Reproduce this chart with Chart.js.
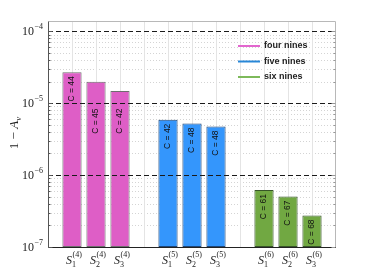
<!DOCTYPE html>
<html>
<head>
<meta charset="utf-8">
<script src="https://cdn.jsdelivr.net/npm/chart.js@4.4.0/dist/chart.umd.min.js"></script>
<style>
  html, body { margin: 0; padding: 0; background: #fff; }
  canvas { display: block; }
</style>
</head>
<body>
<canvas id="js-chart-availability" width="371" height="278"></canvas>
<script>
// Series (legend) and the tag used in the S_i^(n) tick labels
const seriesNames = ["four nines", "five nines", "six nines"];
const seriesTags = ["(4)", "(5)", "(6)"];
const schemeIndex = ["1", "2", "3"];

// 1 - A_v for S_1..S_3 of every series
const fourNines = [2.7e-5, 1.98e-5, 1.48e-5];
const fiveNines = [5.9e-6, 5.2e-6, 4.75e-6];
const sixNines = [6.2e-7, 5.05e-7, 2.75e-7];

// C values printed inside the bars
const fourNinesC = [44, 45, 42];
const fiveNinesC = [42, 48, 48];
const sixNinesC = [61, 67, 68];

// Decade ticks on the y axis (powers of ten)
const yTickExponents = [-7, -6, -5, -4];

const serif = '"Liberation Serif", "DejaVu Serif", serif';
const sans = '"Liberation Sans", Arial, sans-serif';

// Build category slots: an empty slot before, between and after the groups
const seriesValues = [fourNines, fiveNines, sixNines];
const seriesC = [fourNinesC, fiveNinesC, sixNinesC];
const slotLabels = [""];
seriesValues.forEach((vals, d) => {
  vals.forEach((v, j) => slotLabels.push("S" + schemeIndex[j] + seriesTags[d]));
  slotLabels.push("");
});
const slotOf = (d, j) => 1 + d * 4 + j;

const fills = ["rgb(222, 94, 198)", "rgb(52, 150, 252)", "rgb(113, 168, 66)"];
const edges = ["rgb(110, 110, 110)", "rgb(30, 70, 120)", "rgb(55, 85, 40)"];
const legendColors = ["rgb(226, 102, 206)", "rgb(40, 135, 215)", "rgb(125, 185, 90)"];

const datasets = seriesValues.map((vals, d) => {
  const data = slotLabels.map(() => null);
  vals.forEach((v, j) => { data[slotOf(d, j)] = v; });
  return {
    label: seriesNames[d],
    data: data,
    backgroundColor: fills[d],
    borderColor: edges[d],
    borderWidth: 1,
    borderSkipped: false,
    grouped: false,
    barPercentage: 1,
    categoryPercentage: 0.8,
  };
});

// Log grid values from the scale range
function logValues(scale) {
  const out = [];
  const lo = Math.floor(Math.log10(scale.min));
  const hi = Math.ceil(Math.log10(scale.max));
  for (let k = lo; k <= hi; k++) {
    for (let m = 1; m <= 9; m++) {
      const v = m * Math.pow(10, k);
      if (v >= scale.min * 0.999 && v <= scale.max) out.push({ v: v, major: m === 1 });
    }
  }
  return out;
}

const decorPlugin = {
  id: "decor",
  beforeDatasetsDraw(chart) {
    const { ctx, chartArea: a, scales } = chart;
    ctx.save();
    // minor dotted grid
    ctx.strokeStyle = "#d4d4d4";
    ctx.lineWidth = 1;
    ctx.setLineDash([1, 2]);
    logValues(scales.y).forEach((t) => {
      if (t.major) return;
      const y = Math.round(scales.y.getPixelForValue(t.v)) + 0.5;
      ctx.beginPath();
      ctx.moveTo(a.left, y);
      ctx.lineTo(a.right, y);
      ctx.stroke();
    });
    // vertical category grid
    ctx.setLineDash([]);
    ctx.strokeStyle = "#e4e4e4";
    for (let i = 1; i < slotLabels.length - 1; i++) {
      const x = Math.round(scales.x.getPixelForValue(i)) + 0.5;
      ctx.beginPath();
      ctx.moveTo(x, a.top);
      ctx.lineTo(x, a.bottom);
      ctx.stroke();
    }
    ctx.restore();
  },
  afterDatasetsDraw(chart) {
    const { ctx, chartArea: a, scales } = chart;
    const ys = scales.y;
    const xs = scales.x;
    ctx.save();

    // major dashed lines, above the bars
    ctx.strokeStyle = "#1a1a1a";
    ctx.lineWidth = 1;
    ctx.setLineDash([5, 3]);
    const majorPx = [];
    logValues(ys).forEach((t) => {
      if (!t.major) return;
      const y = Math.round(ys.getPixelForValue(t.v)) + 0.5;
      majorPx.push(y);
      if (y >= a.bottom - 1) return;
      ctx.beginPath();
      ctx.moveTo(a.left, y);
      ctx.lineTo(a.right, y);
      ctx.stroke();
    });
    ctx.setLineDash([]);

    // frame
    const L = Math.round(a.left) + 0.5, R = Math.round(a.right) - 0.5;
    const T = Math.round(a.top) + 0.5, B = Math.round(a.bottom) + 0.5;
    ctx.strokeStyle = "#b8b8b8";
    ctx.beginPath();
    ctx.moveTo(L, T); ctx.lineTo(R, T); ctx.lineTo(R, B);
    ctx.stroke();
    ctx.strokeStyle = "#555";
    ctx.beginPath();
    ctx.moveTo(L, T); ctx.lineTo(L, B);
    ctx.stroke();
    ctx.strokeStyle = "#222";
    ctx.beginPath();
    ctx.moveTo(L, B); ctx.lineTo(R + 0.5, B);
    ctx.stroke();

    // inward ticks on left and right
    logValues(ys).forEach((t) => {
      const y = Math.round(ys.getPixelForValue(t.v)) + 0.5;
      const len = t.major ? 4 : 2;
      ctx.strokeStyle = "#555";
      ctx.beginPath(); ctx.moveTo(L, y); ctx.lineTo(L + len, y); ctx.stroke();
      ctx.strokeStyle = "#999";
      ctx.beginPath(); ctx.moveTo(R, y); ctx.lineTo(R - len, y); ctx.stroke();
    });

    // y tick labels 10^k
    ctx.fillStyle = "#222";
    ctx.textBaseline = "alphabetic";
    ctx.textAlign = "left";
    yTickExponents.forEach((e) => {
      const y = ys.getPixelForValue(Math.pow(10, e));
      ctx.font = "12px " + serif;
      const x0 = 22;
      ctx.fillText("10", x0, y + 4);
      const w = ctx.measureText("10").width;
      ctx.font = "8px " + serif;
      ctx.fillText("\u2212" + Math.abs(e), x0 + w + 0.5, y - 2);
    });

    // x tick labels S_j^(n)
    seriesValues.forEach((vals, d) => {
      vals.forEach((v, j) => {
        const cx = xs.getPixelForValue(slotOf(d, j));
        const x0 = cx - 6;
        const base = a.bottom + 17;
        ctx.font = "italic 12px " + serif;
        ctx.fillText("S", x0, base);
        const sw = ctx.measureText("S").width;
        ctx.font = "8px " + serif;
        ctx.fillText(schemeIndex[j], x0 + sw, base + 3);
        ctx.fillText(seriesTags[d], x0 + sw + 0.5, base - 7);
      });
    });

    // y axis title 1 - A_v
    ctx.save();
    ctx.translate(14, 133);
    ctx.rotate(-Math.PI / 2);
    const parts = [
      { t: "1 \u2212 ", f: "13px " + serif, dy: 0 },
      { t: "A", f: "italic 13px " + serif, dy: 0 },
      { t: "v", f: "italic 9px " + serif, dy: 3 },
    ];
    let total = 0;
    parts.forEach((p) => { ctx.font = p.f; p.w = ctx.measureText(p.t).width; total += p.w; });
    let px = -total / 2;
    parts.forEach((p) => {
      ctx.font = p.f;
      ctx.fillText(p.t, px, 4 + p.dy);
      px += p.w;
    });
    ctx.restore();

    // C labels inside the bars
    ctx.font = "8.5px " + sans;
    ctx.fillStyle = "#111";
    seriesC.forEach((cs, d) => {
      const meta = chart.getDatasetMeta(d);
      cs.forEach((c, j) => {
        const bar = meta.data[slotOf(d, j)];
        const text = "C = " + c;
        const len = ctx.measureText(text).width;
        let top = bar.y + 4;
        majorPx.forEach((g) => {
          if (g > top - 1 && g < top + len + 1) top = g + 5;
        });
        ctx.save();
        ctx.translate(bar.x, top);
        ctx.rotate(-Math.PI / 2);
        ctx.textAlign = "right";
        ctx.textBaseline = "middle";
        ctx.fillText(text, 0, 0);
        ctx.restore();
      });
    });

    // legend
    ctx.textAlign = "left";
    ctx.textBaseline = "middle";
    ctx.font = "bold 9px " + sans;
    seriesNames.forEach((name, d) => {
      const y = 46 + d * 15.5;
      ctx.strokeStyle = legendColors[d];
      ctx.lineWidth = 2;
      ctx.beginPath();
      ctx.moveTo(238, y);
      ctx.lineTo(260, y);
      ctx.stroke();
      ctx.fillStyle = "#222";
      ctx.fillText(name, 264, y);
    });

    ctx.restore();
  },
};

new Chart(document.getElementById("js-chart-availability"), {
  type: "bar",
  data: { labels: slotLabels, datasets: datasets },
  options: {
    responsive: false,
    animation: false,
    devicePixelRatio: 1,
    layout: { padding: { top: 21, right: 35, left: 0, bottom: 0 } },
    scales: {
      x: {
        type: "category",
        offset: false,
        grid: { display: false },
        border: { display: false },
        ticks: { display: false },
        afterFit: (s) => { s.height = 31; },
      },
      y: {
        type: "logarithmic",
        min: 1e-7,
        max: 1.39e-4,
        grid: { display: false },
        border: { display: false },
        ticks: { display: false },
        afterFit: (s) => { s.width = 48; },
      },
    },
    plugins: {
      legend: { display: false },
      tooltip: { enabled: false },
    },
  },
  plugins: [decorPlugin],
});
</script>
</body>
</html>
